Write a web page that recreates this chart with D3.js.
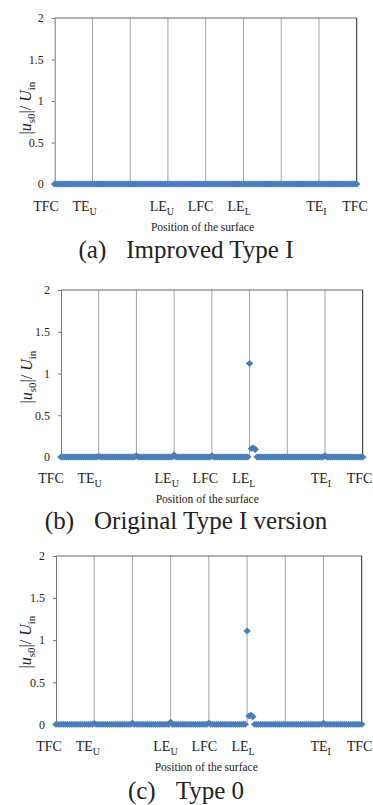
<!DOCTYPE html>
<html>
<head>
<meta charset="utf-8">
<script src="https://cdn.jsdelivr.net/npm/d3@7/dist/d3.min.js"></script>
<style>
  html, body { margin: 0; padding: 0; background: #fff; }
  svg { display: block; }
  text { font-family: "Liberation Serif", "DejaVu Serif", "Times New Roman", serif; fill: #222; }
</style>
</head>
<body>
<svg id="chart" width="373" height="805"></svg>
<script>
// Surface stations along the blade (9 markers, 8 segments)
const categoryNames = ["TFC", "TE", "", "LE", "LFC", "LE", "", "TE", "TFC"];
const categorySubs  = ["",    "U",  "", "U",  "",    "L",  "", "I",  ""];
const yTicks = [0, 0.5, 1, 1.5, 2];
const yTickLabels = ["0", "0.5", "1", "1.5", "2"];

// |u_s0| / U_in sampled along the surface, 20 samples per segment
const improvedTypeI = [
  0,0,0,0,0,0,0,0,0,0,0,0,0,0,0,0,0,0,0,0,
  0,0,0,0,0,0,0,0,0,0,0,0,0,0,0,0,0,0,0,0,
  0,0,0,0,0,0,0,0,0,0,0,0,0,0,0,0,0,0,0,0,
  0,0,0,0,0,0,0,0,0,0,0,0,0,0,0,0,0,0,0,0,
  0,0,0,0,0,0,0,0,0,0,0,0,0,0,0,0,0,0,0,0,
  0,0,0,0,0,0,0,0,0,0,0,0,0,0,0,0,0,0,0,0,
  0,0,0,0,0,0,0,0,0,0,0,0,0,0,0,0,0,0,0,0,
  0,0,0,0,0,0,0,0,0,0,0,0,0,0,0,0,0,0,0,0,
  0
];
const originalTypeI = [
  0,0,0,0,0,0,0,0,0,0,0,0,0,0,0,0,0,0,0,0,
  0.01,0,0,0,0,0,0,0,0,0,0,0,0,0,0,0,0,0,0,0,
  0.015,0,0,0,0,0,0,0,0,0,0,0,0,0,0,0,0,0,0,0,
  0.025,0,0,0,0,0,0,0,0,0,0,0,0,0,0,0,0,0,0,0,
  0.015,0,0,0,0,0,0,0,0,0,0,0,0,0,0,0,0,0,0,0,
  1.12,0.10,0.11,0.09,0,0,0,0,0,0,0,0,0,0,0,0,0,0,0,0,
  0,0,0,0,0,0,0,0,0,0,0,0,0,0,0,0,0,0,0,0,
  0.015,0,0,0,0,0,0,0,0,0,0,0,0,0,0,0,0,0,0,0,
  0
];
const type0 = [
  0,0,0,0,0,0,0,0,0,0,0,0,0,0,0,0,0,0,0,0,
  0.01,0,0,0,0,0,0,0,0,0,0,0,0,0,0,0,0,0,0,0,
  0.015,0,0,0,0,0,0,0,0,0,0,0,0,0,0,0,0,0,0,0,
  0.025,0,0,0,0,0,0,0,0,0,0,0,0,0,0,0,0,0,0,0,
  0.015,0,0,0,0,0,0,0,0,0,0,0,0,0,0,0,0,0,0,0,
  1.11,0.10,0.11,0.09,0,0,0,0,0,0,0,0,0,0,0,0,0,0,0,0,
  0,0,0,0,0,0,0,0,0,0,0,0,0,0,0,0,0,0,0,0,
  0.015,0,0,0,0,0,0,0,0,0,0,0,0,0,0,0,0,0,0,0,
  0
];

const panels = [
  { values: improvedTypeI, tag: "(a)", title: "Improved Type I",
    left: 54.7, right: 356.7, top: 18, bottom: 184,
    labLeft: 46, labRight: 355, labY: 211, posY: 231, titleY: 258, yLabX: 31, yLabY: 108 },
  { values: originalTypeI, tag: "(b)", title: "Original Type I version",
    left: 61, right: 362.7, top: 290, bottom: 457,
    labLeft: 51, labRight: 359.5, labY: 483, posY: 503, titleY: 529, yLabX: 32, yLabY: 377 },
  { values: type0, tag: "(c)", title: "Type 0",
    left: 56, right: 361.7, top: 556, bottom: 724.3,
    labLeft: 49, labRight: 359.5, labY: 751, posY: 771, titleY: 799, yLabX: 31, yLabY: 642 }
];

const svg = d3.select("#chart");
const markerColor = "#4a7ebb";
const diamond = "M0,-3.4L3.8,0L0,3.4L-3.8,0Z";

panels.forEach(p => {
  const g = svg.append("g");
  const n = p.values.length;
  const x = d3.scaleLinear().domain([0, n - 1]).range([p.left, p.right]);
  const xCat = d3.scaleLinear().domain([0, categoryNames.length - 1]).range([p.left, p.right]);
  const xLab = d3.scaleLinear().domain([0, categoryNames.length - 1]).range([p.labLeft, p.labRight]);
  const y = d3.scaleLinear().domain([0, 2]).range([p.bottom, p.top]);

  // vertical grid lines at each surface station
  g.selectAll("line.grid")
    .data(d3.range(1, categoryNames.length - 1))
    .join("line")
    .attr("class", "grid")
    .attr("x1", d => xCat(d)).attr("x2", d => xCat(d))
    .attr("y1", y(2)).attr("y2", y(0))
    .attr("stroke", "#a3a3a3").attr("stroke-width", 1);

  // frame: top and right border
  g.append("line")
    .attr("x1", p.left).attr("x2", p.right)
    .attr("y1", y(2)).attr("y2", y(2))
    .attr("stroke", "#666").attr("stroke-width", 1);
  g.append("line")
    .attr("x1", p.right).attr("x2", p.right)
    .attr("y1", y(2)).attr("y2", y(0))
    .attr("stroke", "#222").attr("stroke-width", 1);

  // y axis
  const yAxis = d3.axisLeft(y)
    .tickValues(yTicks)
    .tickFormat((d, i) => yTickLabels[i])
    .tickSize(3)
    .tickPadding(8);
  const ay = g.append("g").attr("transform", `translate(${p.left},0)`).call(yAxis);
  ay.select(".domain").attr("stroke", "#777");
  ay.selectAll(".tick line").attr("stroke", "#777");
  ay.selectAll(".tick text")
    .style("font-family", '"Liberation Serif", "DejaVu Serif", "Times New Roman", serif')
    .style("font-size", "12px").attr("fill", "#333");

  // y axis title: |u_s0| / U_in
  const yl = g.append("text")
    .attr("transform", `translate(${p.yLabX},${p.yLabY}) rotate(-90)`)
    .attr("text-anchor", "middle")
    .style("font-size", "16px");
  yl.append("tspan").text("|");
  yl.append("tspan").text("u").style("font-style", "italic");
  yl.append("tspan").text("s0").attr("dy", 4).style("font-size", "11px");
  yl.append("tspan").text("|/ ").attr("dy", -4);
  yl.append("tspan").text("U").style("font-style", "italic");
  yl.append("tspan").text("in").attr("dy", 4).style("font-size", "11px");

  // data markers
  g.selectAll("path.pt")
    .data(p.values)
    .join("path")
    .attr("class", "pt")
    .attr("d", diamond)
    .attr("transform", (d, i) => `translate(${x(i)},${y(d)})`)
    .attr("fill", markerColor);

  // station labels
  categoryNames.forEach((name, i) => {
    if (!name) return;
    const t = g.append("text")
      .attr("x", xLab(i)).attr("y", p.labY)
      .attr("text-anchor", "middle")
      .style("font-size", "14px");
    t.append("tspan").text(name);
    if (categorySubs[i]) {
      t.append("tspan").text(categorySubs[i]).attr("dy", 4).style("font-size", "10px");
    }
  });

  // x axis title
  g.append("text")
    .attr("x", (p.labLeft + p.labRight) / 2 + 2).attr("y", p.posY)
    .attr("text-anchor", "middle")
    .style("font-size", "11.5px")
    .text("Position of the surface");

  // panel caption
  const cap = g.append("text")
    .attr("x", 186).attr("y", p.titleY)
    .attr("text-anchor", "middle")
    .style("font-size", "25px");
  cap.append("tspan").text(p.tag);
  cap.append("tspan").attr("dx", 20).text(p.title);
});
</script>
</body>
</html>
